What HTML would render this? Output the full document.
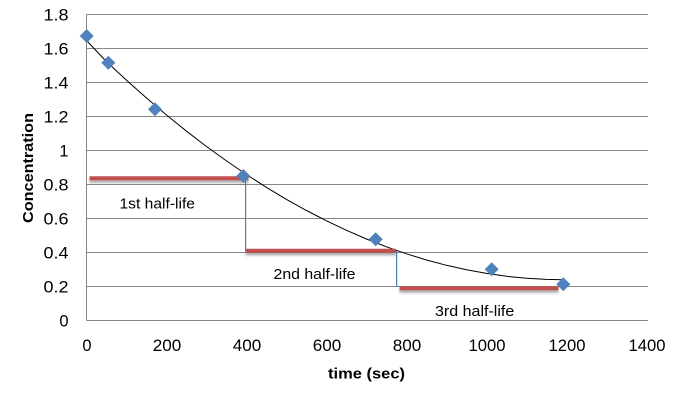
<!DOCTYPE html>
<html>
<head>
<meta charset="utf-8">
<style>
  html,body{margin:0;padding:0;background:#fff;}
  svg{display:block;}
  text{font-family:"Liberation Sans",sans-serif;fill:#000;}
</style>
</head>
<body>
<svg width="682" height="402" viewBox="0 0 682 402" xmlns="http://www.w3.org/2000/svg">
  <defs>
    <filter id="sh" x="-5%" y="-200%" width="110%" height="500%">
      <feDropShadow dx="0" dy="2.5" stdDeviation="1.2" flood-color="#000" flood-opacity="0.35"/>
    </filter>
  </defs>
  <rect width="682" height="402" fill="#fff"/>
  <!-- gridlines -->
  <g stroke="#868686" stroke-width="1">
    <line x1="86.5" y1="14.5" x2="648" y2="14.5"/>
    <line x1="86.5" y1="48.5" x2="648" y2="48.5"/>
    <line x1="86.5" y1="82.5" x2="648" y2="82.5"/>
    <line x1="86.5" y1="116.5" x2="648" y2="116.5"/>
    <line x1="86.5" y1="150.5" x2="648" y2="150.5"/>
    <line x1="86.5" y1="184.5" x2="648" y2="184.5"/>
    <line x1="86.5" y1="218.5" x2="648" y2="218.5"/>
    <line x1="86.5" y1="252.5" x2="648" y2="252.5"/>
    <line x1="86.5" y1="286.5" x2="648" y2="286.5"/>
    <line x1="86.5" y1="320.5" x2="648" y2="320.5"/>
    <line x1="86.5" y1="14.5" x2="86.5" y2="320.5"/>
  </g>
  <!-- y tick labels -->
  <g font-size="16.5" text-anchor="end">
    <text x="68.5" y="20.3" textLength="25" lengthAdjust="spacingAndGlyphs">1.8</text>
    <text x="68.5" y="54.3" textLength="25" lengthAdjust="spacingAndGlyphs">1.6</text>
    <text x="68.5" y="88.3" textLength="25" lengthAdjust="spacingAndGlyphs">1.4</text>
    <text x="68.5" y="122.3" textLength="25" lengthAdjust="spacingAndGlyphs">1.2</text>
    <text x="68.5" y="156.3">1</text>
    <text x="68.5" y="190.3" textLength="25" lengthAdjust="spacingAndGlyphs">0.8</text>
    <text x="68.5" y="224.3" textLength="25" lengthAdjust="spacingAndGlyphs">0.6</text>
    <text x="68.5" y="258.3" textLength="25" lengthAdjust="spacingAndGlyphs">0.4</text>
    <text x="68.5" y="292.3" textLength="25" lengthAdjust="spacingAndGlyphs">0.2</text>
    <text x="68.5" y="326.3">0</text>
  </g>
  <!-- x tick labels -->
  <g font-size="16.5" text-anchor="middle">
    <text x="87" y="351">0</text>
    <text x="167" y="351" textLength="28.5" lengthAdjust="spacingAndGlyphs">200</text>
    <text x="247" y="351" textLength="28.5" lengthAdjust="spacingAndGlyphs">400</text>
    <text x="327" y="351" textLength="28.5" lengthAdjust="spacingAndGlyphs">600</text>
    <text x="407" y="351" textLength="28.5" lengthAdjust="spacingAndGlyphs">800</text>
    <text x="487" y="351" textLength="37" lengthAdjust="spacingAndGlyphs">1000</text>
    <text x="567" y="351" textLength="37" lengthAdjust="spacingAndGlyphs">1200</text>
    <text x="647" y="351" textLength="37" lengthAdjust="spacingAndGlyphs">1400</text>
  </g>
  <!-- axis titles -->
  <text x="366.5" y="378.5" font-size="15" font-weight="bold" text-anchor="middle" textLength="77" lengthAdjust="spacingAndGlyphs">time (sec)</text>
  <text transform="translate(33,168) rotate(-90)" font-size="15" font-weight="bold" text-anchor="middle" textLength="110" lengthAdjust="spacingAndGlyphs">Concentration</text>

  <!-- trend line -->
  <polyline fill="none" stroke="#000" stroke-width="1"
    points="86.5,40.5 106.5,61.6 126.5,80.2 146.5,98 166.5,115 186.5,131.2 206.5,146.5 226.5,160.9 246.5,174.6 266.5,187.4 286.5,199.4 306.5,210.5 326.5,220.8 346.5,230.3 366.5,239 386.5,246.8 406.5,253.8 426.5,260 446.5,265.3 466.5,269.8 486.5,273.4 506.5,276.3 526.5,278.3 546.5,279.4 563,279.7"/>

  <!-- red half-life lines -->
  <g stroke="#C0504D" stroke-width="4" filter="url(#sh)">
    <line x1="89.5" y1="178.3" x2="248.5" y2="178.3"/>
    <line x1="245.5" y1="250.7" x2="396" y2="250.7"/>
    <line x1="399.5" y1="288.3" x2="558.5" y2="288.3"/>
  </g>
  <!-- blue verticals -->
  <g stroke="#4A7EBB" stroke-width="1.2">
    <line x1="245.6" y1="178" x2="245.6" y2="251"/>
    <line x1="396.6" y1="251" x2="396.6" y2="287"/>
  </g>

  <!-- data points -->
  <g fill="#4F81BD">
    <path d="M86.7,29 L93.7,36 L86.7,43 L79.7,36 Z"/>
    <path d="M108.3,55.7 L115.3,62.7 L108.3,69.7 L101.3,62.7 Z"/>
    <path d="M155,102.3 L162,109.3 L155,116.3 L148,109.3 Z"/>
    <path d="M243.3,169 L250.3,176 L243.3,183 L236.3,176 Z"/>
    <path d="M375.7,232.3 L382.7,239.3 L375.7,246.3 L368.7,239.3 Z"/>
    <path d="M491.7,262.3 L498.7,269.3 L491.7,276.3 L484.7,269.3 Z"/>
    <path d="M563.3,277.3 L570.3,284.3 L563.3,291.3 L556.3,284.3 Z"/>
  </g>

  <!-- labels -->
  <g font-size="15">
    <text x="119.5" y="208.5" textLength="75.5" lengthAdjust="spacingAndGlyphs">1st half-life</text>
    <text x="273.5" y="279.2" textLength="82" lengthAdjust="spacingAndGlyphs">2nd half-life</text>
    <text x="435" y="315.9" textLength="79.3" lengthAdjust="spacingAndGlyphs">3rd half-life</text>
  </g>
</svg>
</body>
</html>
